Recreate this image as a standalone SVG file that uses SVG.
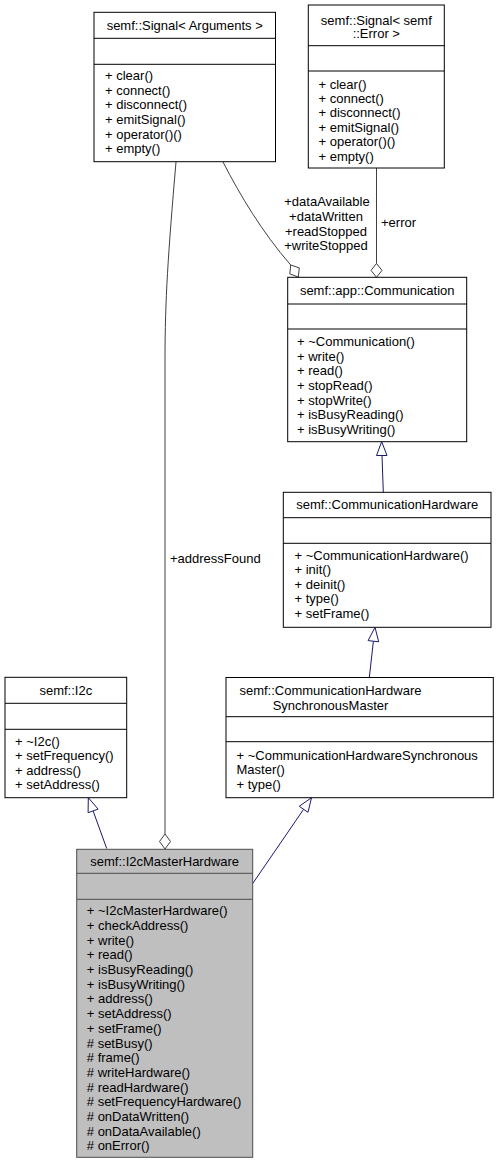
<svg xmlns="http://www.w3.org/2000/svg" width="499" height="1165" viewBox="0 0 499 1165">
<style>
.bg{fill:#ffffff}
.box{fill:#ffffff;stroke:#000000;stroke-width:1}
.sel{fill:#bfbfbf;stroke:#4d4d4d;stroke-width:1}
.sep{stroke:#000000;stroke-width:1}
.sep2{stroke:#4d4d4d;stroke-width:1}
text{font-family:"Liberation Sans",Arial,Helvetica,sans-serif;font-size:13px;fill:#000000}
.c{text-anchor:middle}
.inh{stroke:#191970;stroke-width:1;fill:none}
.tri{fill:#ffffff;stroke:#191970;stroke-width:1}
.agg{stroke:#404040;stroke-width:1;fill:none}
.dia{fill:#ffffff;stroke:#404040;stroke-width:1}
</style>
<rect class="bg" x="0" y="0" width="499" height="1165"/>

<g id="connectors">
  <!-- Signal<semf::Error> -> Communication (+error) -->
  <path class="agg" d="M376.5,168 L376.5,263.5"/>
  <polygon class="dia" points="376.5,277.3 382,270.4 376.5,263.5 371,270.4"/>
  <text x="381" y="227">+error</text>
  <!-- Signal<Arguments> -> Communication -->
  <path class="agg" d="M223,162 C240,195 262,232 290.7,265"/>
  <polygon class="dia" points="298.3,277 299.3,267.9 290.7,265 289.8,273.9"/>
  <text class="c" x="327" y="206">+dataAvailable</text>
  <text class="c" x="326" y="220.5">+dataWritten</text>
  <text class="c" x="326" y="235.5">+readStopped</text>
  <text class="c" x="326" y="249.5">+writeStopped</text>
  <!-- Signal<Arguments> -> I2cMasterHardware (+addressFound) -->
  <path class="agg" d="M176,162 C168,255 165,300 165,360 L165,834"/>
  <polygon class="dia" points="165,849 170.5,841.5 165,834 159.5,841.5"/>
  <text x="170" y="563">+addressFound</text>
  <!-- CommunicationHardware -> Communication -->
  <path class="inh" d="M383.3,492.3 L382,455.5"/>
  <polygon class="tri" points="381.7,441.7 387,455.5 376.5,455.5"/>
  <!-- SyncMaster -> CommunicationHardware -->
  <path class="inh" d="M369.3,677.7 L373.4,641.2"/>
  <polygon class="tri" points="375,627.3 378.7,641.8 368.1,640.6"/>
  <!-- I2c -> I2cMasterHardware -->
  <path class="inh" d="M106.7,848.5 L93.1,810.9"/>
  <polygon class="tri" points="88.3,797.7 98.1,809.1 88.1,812.7"/>
  <!-- SyncMaster -> I2cMasterHardware -->
  <path class="inh" d="M252.7,883.5 L303.6,809.3"/>
  <polygon class="tri" points="311.5,797.7 308,812.3 299.2,806.3"/>
</g>

<g id="signal_arguments">
  <rect class="box" x="94" y="12.3" width="181.5" height="149.4"/>
  <line class="sep" x1="94" y1="38.3" x2="275.5" y2="38.3"/>
  <line class="sep" x1="94" y1="64.3" x2="275.5" y2="64.3"/>
  <text class="c" x="184.7" y="30.2">semf::Signal&lt; Arguments &gt;</text>
  <text x="105" y="80.2">+ clear()</text>
  <text x="105" y="94.8">+ connect()</text>
  <text x="105" y="109.4">+ disconnect()</text>
  <text x="105" y="124">+ emitSignal()</text>
  <text x="105" y="138.6">+ operator()()</text>
  <text x="105" y="153.2">+ empty()</text>
</g>

<g id="signal_error">
  <rect class="box" x="308.3" y="5" width="136" height="163"/>
  <line class="sep" x1="308.3" y1="45.7" x2="444.3" y2="45.7"/>
  <line class="sep" x1="308.3" y1="71" x2="444.3" y2="71"/>
  <text class="c" x="376.3" y="24.5">semf::Signal&lt; semf</text>
  <text class="c" x="376.3" y="38">::Error &gt;</text>
  <text x="318.5" y="88.5">+ clear()</text>
  <text x="318.5" y="102.9">+ connect()</text>
  <text x="318.5" y="117.3">+ disconnect()</text>
  <text x="318.5" y="131.7">+ emitSignal()</text>
  <text x="318.5" y="146.1">+ operator()()</text>
  <text x="318.5" y="160.5">+ empty()</text>
</g>

<g id="communication">
  <rect class="box" x="287.7" y="277.3" width="179" height="164.4"/>
  <line class="sep" x1="287.7" y1="304" x2="466.7" y2="304"/>
  <line class="sep" x1="287.7" y1="329" x2="466.7" y2="329"/>
  <text class="c" x="377.2" y="295">semf::app::Communication</text>
  <text x="297" y="346.2">+ ~Communication()</text>
  <text x="297" y="360.8">+ write()</text>
  <text x="297" y="375.4">+ read()</text>
  <text x="297" y="390">+ stopRead()</text>
  <text x="297" y="404.6">+ stopWrite()</text>
  <text x="297" y="419.2">+ isBusyReading()</text>
  <text x="297" y="433.8">+ isBusyWriting()</text>
</g>

<g id="communication_hardware">
  <rect class="box" x="283.3" y="492.3" width="207.7" height="135"/>
  <line class="sep" x1="283.3" y1="517.7" x2="491" y2="517.7"/>
  <line class="sep" x1="283.3" y1="543.3" x2="491" y2="543.3"/>
  <text class="c" x="387.2" y="508.5">semf::CommunicationHardware</text>
  <text x="294.5" y="559.5">+ ~CommunicationHardware()</text>
  <text x="294.5" y="574.1">+ init()</text>
  <text x="294.5" y="588.7">+ deinit()</text>
  <text x="294.5" y="603.3">+ type()</text>
  <text x="294.5" y="617.9">+ setFrame()</text>
</g>

<g id="communication_hardware_synchronous_master">
  <rect class="box" x="226" y="677.5" width="267.3" height="120.2"/>
  <line class="sep" x1="226" y1="716.7" x2="493.3" y2="716.7"/>
  <line class="sep" x1="226" y1="741.7" x2="493.3" y2="741.7"/>
  <text class="c" x="330.5" y="695.2">semf::CommunicationHardware</text>
  <text class="c" x="330.5" y="709.5">SynchronousMaster</text>
  <text x="236.5" y="759.5">+ ~CommunicationHardwareSynchronous</text>
  <text x="236.5" y="774.1">Master()</text>
  <text x="236.5" y="788.7">+ type()</text>
</g>

<g id="i2c">
  <rect class="box" x="5" y="677.3" width="121.7" height="120.4"/>
  <line class="sep" x1="5" y1="703.3" x2="126.7" y2="703.3"/>
  <line class="sep" x1="5" y1="729.3" x2="126.7" y2="729.3"/>
  <text class="c" x="65.8" y="695.2">semf::I2c</text>
  <text x="15" y="745.5">+ ~I2c()</text>
  <text x="15" y="760.1">+ setFrequency()</text>
  <text x="15" y="774.7">+ address()</text>
  <text x="15" y="789.3">+ setAddress()</text>
</g>

<g id="i2c_master_hardware">
  <rect class="sel" x="76.7" y="849.3" width="176" height="308"/>
  <line class="sep2" x1="76.7" y1="873.3" x2="252.7" y2="873.3"/>
  <line class="sep2" x1="76.7" y1="899.3" x2="252.7" y2="899.3"/>
  <text class="c" x="164.7" y="866">semf::I2cMasterHardware</text>
  <text x="86.8" y="915.2">+ ~I2cMasterHardware()</text>
  <text x="86.8" y="929.9">+ checkAddress()</text>
  <text x="86.8" y="944.6">+ write()</text>
  <text x="86.8" y="959.3">+ read()</text>
  <text x="86.8" y="974">+ isBusyReading()</text>
  <text x="86.8" y="988.7">+ isBusyWriting()</text>
  <text x="86.8" y="1003.4">+ address()</text>
  <text x="86.8" y="1018.1">+ setAddress()</text>
  <text x="86.8" y="1032.8">+ setFrame()</text>
  <text x="86.8" y="1047.5"># setBusy()</text>
  <text x="86.8" y="1062.2"># frame()</text>
  <text x="86.8" y="1076.9"># writeHardware()</text>
  <text x="86.8" y="1091.6"># readHardware()</text>
  <text x="86.8" y="1106.3"># setFrequencyHardware()</text>
  <text x="86.8" y="1121"># onDataWritten()</text>
  <text x="86.8" y="1135.7"># onDataAvailable()</text>
  <text x="86.8" y="1150.4"># onError()</text>
</g>
</svg>
